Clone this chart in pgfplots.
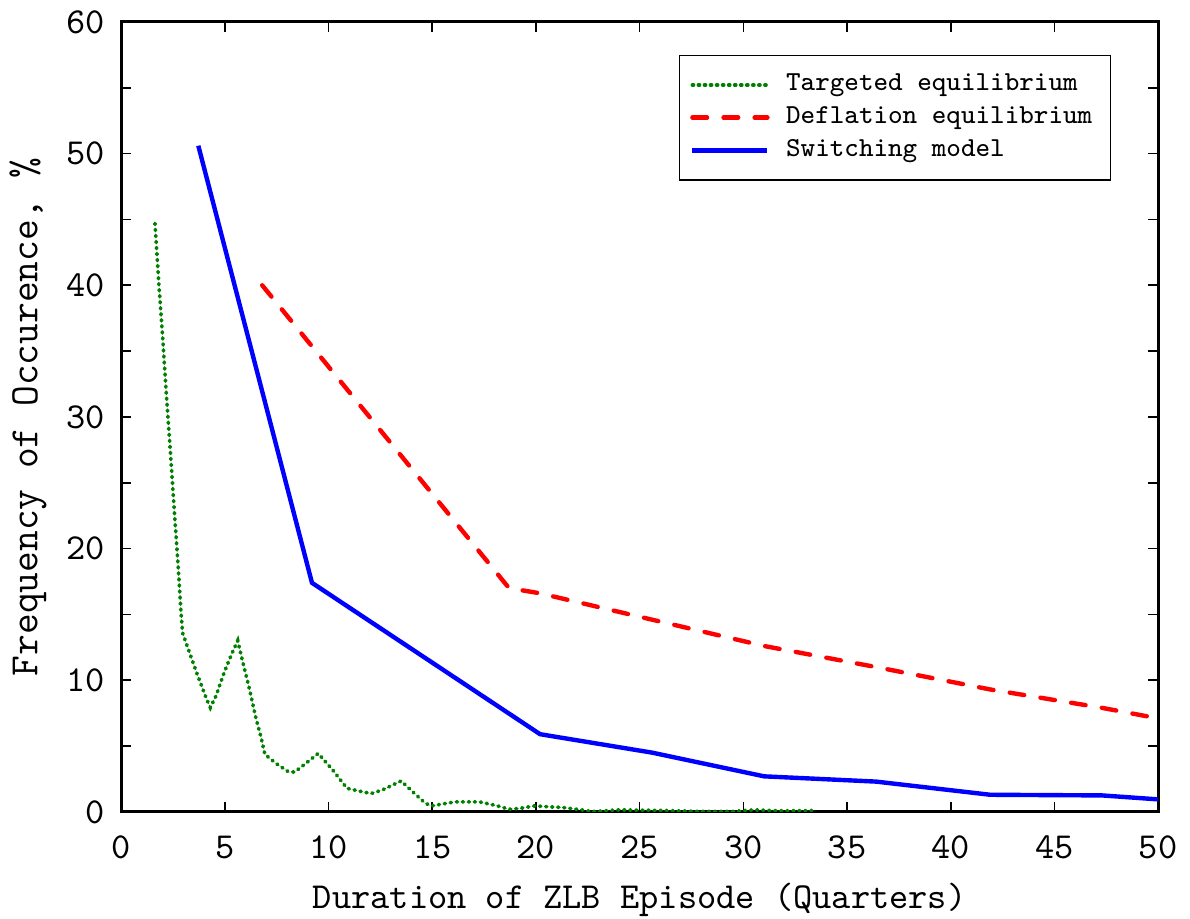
\documentclass[border=0pt]{standalone}
\usepackage{pgfplots}
\pgfplotsset{compat=1.18}

\definecolor{tgtgreen}{RGB}{0,128,0}

\begin{document}
\begin{tikzpicture}
\begin{axis}[
    scale only axis,
    width=283.3pt,
    height=215.8pt,
    xmin=0, xmax=50,
    ymin=0, ymax=60,
    xtick={0,5,...,50},
    ytick={0,10,...,60},
    minor ytick={5,15,...,55},
    tick align=inside,
    major tick length=2.8pt,
    minor tick length=2.8pt,
    tick style={black, line width=0.45pt},
    axis line style={line width=0.8pt},
    /pgf/number format/assume math mode=true,
    ticklabel style={font=\ttfamily},
    xticklabel style={yshift=-3pt},
    yticklabel style={xshift=-1pt},
    xlabel={Duration of ZLB Episode (Quarters)},
    ylabel={Frequency of Occurence, \%},
    xlabel style={font=\ttfamily, yshift=0.3pt},
    ylabel style={font=\ttfamily\fontsize{11}{13}\selectfont, yshift=-1.5pt},
    legend style={
        at={(0.9548,0.9583)}, anchor=north east,
        font=\ttfamily\fontsize{7.5}{9}\selectfont,
        draw=black, line width=0.4pt,
        cells={anchor=west},
        inner xsep=3pt, inner ysep=3pt,
        row sep=-1.2pt,
        /tikz/every odd column/.append style={column sep=2.5pt},
    },
    legend image code/.code={
        \draw[#1] (0pt,0pt) -- (20.5pt,0pt);
    },
    legend image post style={xshift=1pt},
    legend cell align=left,
]
\addplot[tgtgreen, line width=1pt, line cap=round, dash pattern=on 0.3pt off 1.35pt] coordinates {
(1.63,44.7) (1.83,39.8) (1.99,36.3) (2.18,31.7) (2.38,27.2) (2.57,22.7)
(2.75,18.6) (2.88,15.3) (2.96,13.6) (3.25,12.3) (3.68,10.4) (4.12,8.56)
(4.30,7.93) (4.57,8.8) (4.97,10.6) (5.33,12.0) (5.62,13.0) (5.83,11.6)
(6.18,9.37) (6.50,7.1) (6.74,5.7) (6.93,4.37) (7.46,3.69) (8.06,3.05)
(8.37,3.03) (8.94,3.73) (9.50,4.44) (10.2,3.18) (10.89,1.79) (11.45,1.59)
(12.05,1.39) (12.6,1.67) (13.5,2.35) (14.06,1.52) (14.65,0.68) (14.94,0.45)
(16.1,0.76) (17.28,0.76) (18.16,0.45) (18.7,0.2) (19.2,0.26) (19.93,0.45)
(20.5,0.4) (21.3,0.33) (22.2,0.15) (22.7,0.02) (24.0,0.15) (26.3,0.1)
(27.9,0.03) (29.5,0.03) (30.5,0.15) (31.9,0.08) (33.3,0.1)
};
\addplot[red, line width=1.2pt, line cap=round, dash pattern=on 4pt off 4.5pt] coordinates {
(6.8,40.0) (18.7,17.0) (20.2,16.6) (25.6,14.6) (31.0,12.6) (36.4,11.0)
(41.9,9.3) (47.3,7.9) (50,7.1)
};
\addplot[blue, line width=1.2pt] coordinates {
(3.72,50.6) (9.2,17.4) (20.2,5.9) (25.6,4.5) (31.0,2.7) (36.4,2.3)
(41.9,1.3) (47.3,1.25) (50,0.95)
};
\legend{Targeted equilibrium, Deflation equilibrium, Switching model}
\end{axis}
\pgfresetboundingbox
\path[use as bounding box] ([xshift=-33.1pt,yshift=-29pt]current axis.south west)
    rectangle ([xshift=8.7pt,yshift=6pt]current axis.north east);
\end{tikzpicture}
\end{document}
